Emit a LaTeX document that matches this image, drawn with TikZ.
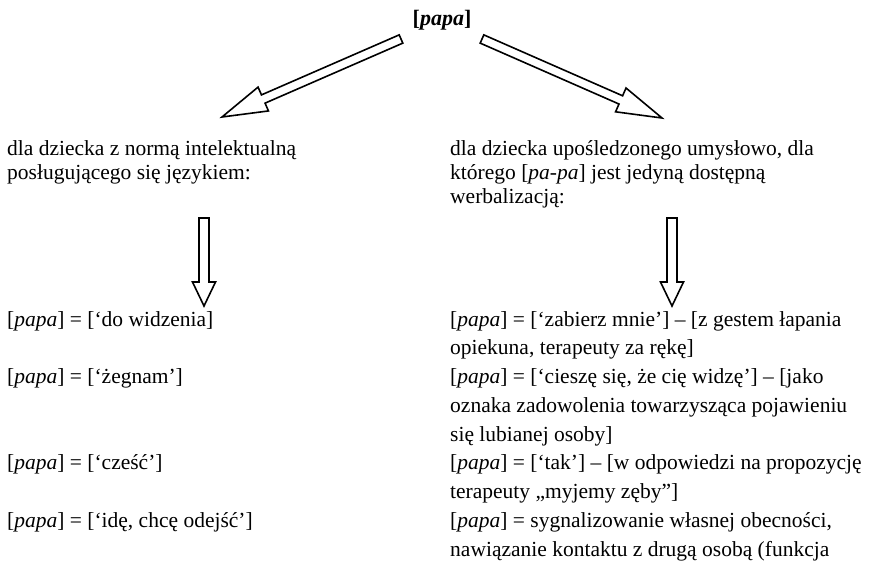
\documentclass[tikz,border=0pt]{standalone}
\usepackage{fontspec}
\setmainfont{Liberation Serif}
\usetikzlibrary{calc}
\newcommand\blockarr[5]{% #1 start, #2 end, #3 shaft half-width, #4 head half-width, #5 head length
  \coordinate (#2-h) at ($(#2)!#5!(#1)$);
  \draw[blockarrow] ($(#1)!#3!90:(#2)$) -- ($(#2-h)!#3!90:(#2)$) -- ($(#2-h)!#4!90:(#2)$)
    -- (#2) -- ($(#2-h)!#4!-90:(#2)$) -- ($(#2-h)!#3!-90:(#2)$) -- ($(#1)!#3!-90:(#2)$) -- cycle;
}
\begin{document}
\begin{tikzpicture}[x=1pt,y=-1pt,
  txt/.style={inner sep=0pt, anchor=base west, align=left, font=\fontsize{21.5}{28.75}\selectfont},
  headtxt/.style={txt, font=\fontsize{21.5}{24}\selectfont},
  blockarrow/.style={draw=black, line width=1.6pt, fill=white, line join=miter}]
\useasboundingbox (0,0) rectangle (869,561);
\fill[white] (0,0) rectangle (869,561);

\node[inner sep=0pt, anchor=base, font=\fontsize{22}{26}\selectfont\bfseries] (top) at (442,26) {[\textit{papa}]};

% multi-line nodes: base anchor = baseline of the last line
\node[headtxt] (lhead) at (7,180) {dla dziecka z normą intelektualną\\posługującego się językiem:};
\node[headtxt] (rhead) at (450,204) {dla dziecka upośledzonego umysłowo, dla\\którego [\textit{pa-pa}] jest jedyną dostępną\\werbalizacją:};

\node[txt] (l1) at (7,326) {[\textit{papa}] = [‘do widzenia]};
\node[txt] (l2) at (7,383.5) {[\textit{papa}] = [‘żegnam’]};
\node[txt] (l3) at (7,469.75) {[\textit{papa}] = [‘cześć’]};
\node[txt] (l4) at (7,527.25) {[\textit{papa}] = [‘idę, chcę odejść’]};

\node[txt] (r1) at (450,354.75) {[\textit{papa}] = [‘zabierz mnie’] – [z gestem łapania\\opiekuna, terapeuty za rękę]};
\node[txt] (r2) at (450,441) {[\textit{papa}] = [‘cieszę się, że cię widzę’] – [jako\\oznaka zadowolenia towarzysząca pojawieniu\\się lubianej osoby]};
\node[txt] (r3) at (450,498.5) {[\textit{papa}] = [‘tak’] – [w odpowiedzi na propozycję\\terapeuty „myjemy zęby”]};
\node[txt] (r4) at (450,556) {[\textit{papa}] = sygnalizowanie własnej obecności,\\nawiązanie kontaktu z drugą osobą (funkcja};

\coordinate (dl1) at (401,39);
\coordinate (dl2) at (222,117);
\coordinate (dr1) at (482,39);
\coordinate (dr2) at (662,118);
\coordinate (vl1) at (204,218);
\coordinate (vl2) at (204,306);
\coordinate (vr1) at (672,218);
\coordinate (vr2) at (672,306);

\blockarr{dl1}{dl2}{4.5pt}{13pt}{45pt}
\blockarr{dr1}{dr2}{4.5pt}{13pt}{45pt}
\blockarr{vl1}{vl2}{5pt}{11.5pt}{24pt}
\blockarr{vr1}{vr2}{5pt}{11.5pt}{24pt}
\end{tikzpicture}
\end{document}
